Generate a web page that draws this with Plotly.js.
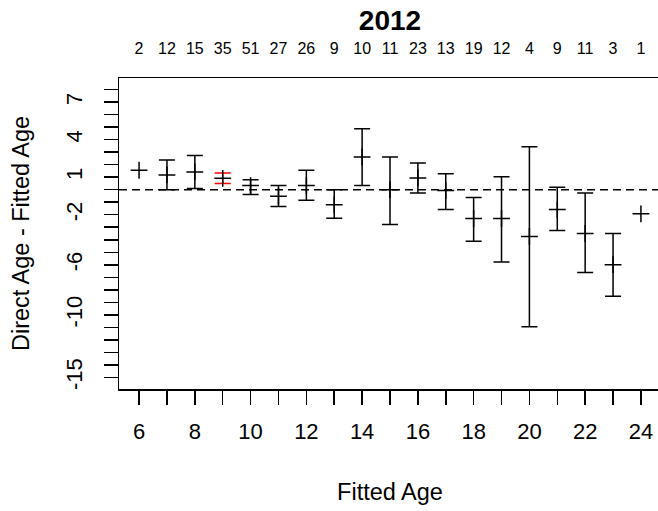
<!DOCTYPE html>
<html>
<head>
<meta charset="utf-8">
<script src="https://cdn.plot.ly/plotly-3.0.1.min.js"></script>
<style>
html, body { margin: 0; padding: 0; overflow: hidden; background: #fff; }
#chart { width: 670px; height: 511px; }
</style>
</head>
<body>
<div id="chart"></div>
<script>
// Fitted ages, sample sizes, mean differences and confidence limits
var ages   = [6, 7, 8, 9, 10, 11, 12, 13, 14, 15, 16, 17, 18, 19, 20, 21, 22, 23, 24];
var nFish  = [2, 12, 15, 35, 51, 27, 26, 9, 10, 11, 23, 13, 19, 12, 4, 9, 11, 3, 1];
var meanDiff = [1.55, 1.18, 1.42, 0.91, 0.33, -0.52, 0.33, -1.21, 2.61, 0.00, 0.94, -0.07, -2.30, -2.30, -3.74, -1.59, -3.50, -5.99, -1.93];
var lowerCI  = [null, 0.00, 0.09, 0.49, -0.39, -1.35, -0.84, -2.28, 0.33, -2.78, -0.26, -1.59, -4.11, -5.78, -10.94, -3.26, -6.61, -8.52, null];
var upperCI  = [null, 2.37, 2.72, 1.34, 0.80, 0.33, 1.55, 0.00, 4.87, 2.61, 2.13, 1.28, -0.63, 1.04, 3.43, 0.19, -0.26, -3.50, null];
var significant = [0, 0, 0, 1, 0, 0, 0, 0, 0, 0, 0, 0, 0, 0, 0, 0, 0, 0, 0];

var xTickVals = [6, 7, 8, 9, 10, 11, 12, 13, 14, 15, 16, 17, 18, 19, 20, 21, 22, 23, 24];
var xTickText = ["6", "", "8", "", "10", "", "12", "", "14", "", "16", "", "18", "", "20", "", "22", "", "24"];
var yTickVals = [8, 7, 6, 5, 4, 3, 2, 1, 0, -1, -2, -3, -4, -5, -6, -7, -8, -9, -10, -11, -12, -13, -14, -15];
var yTickText = ["", "7", "", "", "4", "", "", "1", "", "", "-2", "", "", "", "-6", "", "", "", "-10", "", "", "", "", "-15"];

var chartTitle = "2012";
var xTitle = "Fitted Age";
var yTitle = "Direct Age - Fitted Age";

var FONT = "Liberation Sans, Arial, sans-serif";

function errTrace(flag, color) {
  var x = [], y = [], up = [], dn = [];
  for (var i = 0; i < ages.length; i++) {
    if (significant[i] !== flag) continue;
    if (lowerCI[i] === null || upperCI[i] === null) continue;
    x.push(ages[i]); y.push(meanDiff[i]);
    up.push(upperCI[i] - meanDiff[i]);
    dn.push(meanDiff[i] - lowerCI[i]);
  }
  return {
    type: "scatter", mode: "markers", x: x, y: y,
    marker: { opacity: 0, size: 1 },
    error_y: { type: "data", symmetric: false, array: up, arrayminus: dn,
               color: color, thickness: 1.5, width: 8 },
    showlegend: false, hoverinfo: "skip"
  };
}

var traces = [
  errTrace(0, "#000000"),
  errTrace(1, "#FF0000"),
  {
    type: "scatter", mode: "markers", x: ages, y: meanDiff,
    marker: { symbol: "cross-thin-open", size: 12, color: "#000000",
              line: { color: "#000000", width: 1.5 } },
    showlegend: false, hoverinfo: "skip"
  },
  {
    type: "scatter", mode: "markers", x: ages, y: meanDiff, xaxis: "x2",
    marker: { opacity: 0, size: 1 }, showlegend: false, hoverinfo: "skip"
  }
];

var xr = [5.28, 24.72];
var layout = {
  width: 670, height: 511,
  margin: { l: 119, r: 9, t: 78, b: 122 },
  paper_bgcolor: "#ffffff", plot_bgcolor: "#ffffff",
  font: { family: FONT, color: "#000000" },
  title: { text: "<b>" + chartTitle + "</b>", font: { family: FONT, size: 28, color: "#000000" },
           xref: "paper", x: 0.5, xanchor: "center", yref: "container", y: 1 - 20 / 511, yanchor: "middle" },
  xaxis: {
    range: xr, tickmode: "array", tickvals: xTickVals, ticktext: xTickText,
    ticks: "outside", ticklen: 14, tickwidth: 1.5, tickcolor: "#000000",
    showline: true, linewidth: 1.5, linecolor: "#000000", mirror: true,
    showgrid: false, zeroline: false,
    tickfont: { family: FONT, size: 22, color: "#000000" },
    ticklabelstandoff: 8,
    title: { text: xTitle, font: { family: FONT, size: 23.5, color: "#000000" }, standoff: 40 }
  },
  xaxis2: {
    range: xr, overlaying: "x", side: "top", anchor: "y",
    tickmode: "array", tickvals: ages, ticktext: nFish.map(String),
    ticks: "", showline: false, showgrid: false, zeroline: false,
    tickfont: { family: FONT, size: 16, color: "#000000" },
    ticklabelstandoff: 20
  },
  yaxis: {
    range: [-15.92, 8.92], tickmode: "array", tickvals: yTickVals, ticktext: yTickText,
    ticks: "outside", ticklen: 14, tickwidth: 1.5, tickcolor: "#000000",
    showline: true, linewidth: 1.5, linecolor: "#000000", mirror: true,
    showgrid: false, zeroline: false, tickangle: -90,
    tickfont: { family: FONT, size: 22, color: "#000000" },
    ticklabelstandoff: 13,
    title: { text: yTitle, font: { family: FONT, size: 23.5, color: "#000000" }, standoff: 25 }
  },
  shapes: [{
    type: "line", xref: "paper", x0: 0, x1: 1, yref: "y", y0: 0, y1: 0,
    line: { color: "#000000", width: 1.5, dash: "8px,5px" }, layer: "below"
  }]
};

Plotly.newPlot("chart", traces, layout, { staticPlot: true, displayModeBar: false });
</script>
</body>
</html>
